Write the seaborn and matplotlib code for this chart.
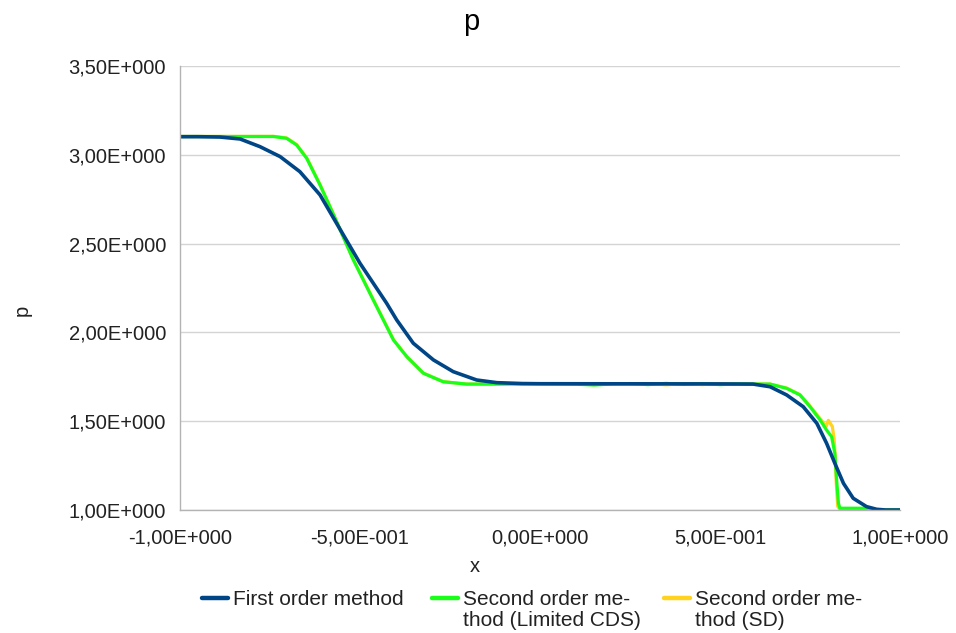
import numpy as np
import pandas as pd
import matplotlib
matplotlib.use("Agg")
import matplotlib.pyplot as plt
from matplotlib.legend_handler import HandlerLine2D
from matplotlib.lines import Line2D
import seaborn as sns

# ---- data ----
x_first = [-1.0, -0.95, -0.889, -0.833, -0.778, -0.722, -0.667, -0.611, -0.565, -0.5,
           -0.426, -0.398, -0.352, -0.296, -0.241, -0.176, -0.12, -0.05, 0.0, 0.5, 0.592,
           0.639, 0.685, 0.731, 0.769, 0.796, 0.819, 0.843, 0.87, 0.907, 0.935, 0.96, 1.0]
p_first = [3.102, 3.102, 3.10, 3.089, 3.046, 2.99, 2.905, 2.774, 2.614, 2.389,
           2.164, 2.07, 1.939, 1.845, 1.779, 1.732, 1.717, 1.712, 1.711, 1.71, 1.709,
           1.694, 1.648, 1.582, 1.488, 1.376, 1.263, 1.15, 1.066, 1.019, 1.004, 1.0, 1.0]

x_cds = [-1.0, -0.74, -0.704, -0.676, -0.648, -0.611, -0.574, -0.519, -0.463, -0.407,
         -0.37, -0.324, -0.269, -0.204, -0.15, 0.0, 0.1, 0.15, 0.2, 0.25, 0.3, 0.35, 0.4,
         0.45, 0.5, 0.55, 0.6, 0.639, 0.685, 0.722, 0.75, 0.778, 0.796, 0.81, 0.819,
         0.824, 0.829, 0.833, 0.917, 0.93, 1.0]
p_cds = [3.103, 3.103, 3.093, 3.055, 2.98, 2.83, 2.665, 2.41, 2.182, 1.957,
         1.863, 1.77, 1.722, 1.709, 1.709, 1.71, 1.708, 1.704, 1.709, 1.712, 1.706, 1.713, 1.707,
         1.712, 1.706, 1.71, 1.709, 1.709, 1.685, 1.648, 1.582, 1.507, 1.45, 1.413, 1.319,
         1.169, 1.038, 1.01, 1.01, 1.0, 1.0]

x_sd = [-1.0, -0.74, -0.704, -0.676, -0.648, -0.611, -0.574, -0.519, -0.463, -0.407,
        -0.37, -0.324, -0.269, -0.204, -0.15, 0.0, 0.1, 0.15, 0.2, 0.25, 0.3, 0.35, 0.4,
        0.45, 0.5, 0.55, 0.6, 0.639, 0.685, 0.722, 0.75, 0.78, 0.795, 0.801, 0.812,
        0.817, 0.82, 0.823, 0.827, 0.835, 1.0]
p_sd = [3.103, 3.104, 3.095, 3.058, 2.983, 2.832, 2.667, 2.412, 2.184, 1.959,
        1.864, 1.771, 1.723, 1.709, 1.709, 1.71, 1.71, 1.706, 1.711, 1.707, 1.712, 1.705, 1.711,
        1.706, 1.711, 1.709, 1.709, 1.709, 1.687, 1.65, 1.585, 1.51, 1.47, 1.505, 1.47,
        1.40, 1.30, 1.15, 1.02, 1.0, 1.0]

series_names = ["First order method", "Second order me-\nthod (Limited CDS)",
                "Second order me-\nthod (SD)"]
series_colors = ["#004586", "#1aff1a", "#ffd320"]

x_ticks = [-1.0, -0.5, 0.0, 0.5, 1.0]
x_tick_labels = ["-1,00E+000", "-5,00E-001", "0,00E+000", "5,00E-001", "1,00E+000"]
y_ticks = [1.0, 1.5, 2.0, 2.5, 3.0, 3.5]
y_tick_labels = ["1,00E+000", "1,50E+000", "2,00E+000", "2,50E+000", "3,00E+000", "3,50E+000"]

df = pd.concat([
    pd.DataFrame({"x": x_first, "p": p_first, "series": series_names[0]}),
    pd.DataFrame({"x": x_cds, "p": p_cds, "series": series_names[1]}),
    pd.DataFrame({"x": x_sd, "p": p_sd, "series": series_names[2]}),
], ignore_index=True)

# ---- styling ----
sns.set_style("white")
plt.rcParams["font.family"] = ["Liberation Sans", "DejaVu Sans"]
text_color = "#222222"
grid_color = "#d4d4d4"
axis_color = "#b3b3b3"
tick_fs = 14.5
leg_fs = 15

fig = plt.figure(figsize=(9.56, 6.33), dpi=100)
ax = fig.add_axes([180 / 956, 1 - 510 / 633, 720 / 956, 444 / 633])

palette = dict(zip(series_names, series_colors))
widths = {series_names[0]: 2.6, series_names[1]: 2.3, series_names[2]: 2.3}
for name in [series_names[2], series_names[1], series_names[0]]:
    sub = df[df["series"] == name]
    sns.lineplot(data=sub, x="x", y="p", color=palette[name], linewidth=widths[name],
                 ax=ax, sort=False, estimator=None, legend=False)

ax.set_xlim(-1.0, 1.0)
ax.set_ylim(1.0, 3.5)
ax.set_xticks(x_ticks)
ax.set_xticklabels(x_tick_labels)
ax.set_yticks(y_ticks)
ax.set_yticklabels(y_tick_labels)
ax.set_xticks([-1.0, 0.0, 1.0], minor=True)

ax.grid(axis="y", which="major", color=grid_color, linewidth=1.0)
ax.grid(axis="x", which="minor", color=grid_color, linewidth=1.0)
ax.grid(axis="x", which="major", visible=False)
ax.set_axisbelow(True)

for s in ["top", "right"]:
    ax.spines[s].set_visible(False)
for s in ["left", "bottom"]:
    ax.spines[s].set_color(axis_color)
    ax.spines[s].set_linewidth(1.0)

ax.tick_params(axis="both", which="major", direction="out", color=axis_color,
               labelsize=tick_fs, labelcolor=text_color, width=1.0)
ax.tick_params(axis="y", which="major", length=9, pad=1)
ax.tick_params(axis="x", which="major", length=7, pad=6)
ax.tick_params(axis="x", which="minor", length=0)

ax.set_xlabel("x", fontsize=tick_fs, color=text_color)
ax.set_ylabel("p", fontsize=tick_fs, color=text_color)
ax.xaxis.set_label_coords((475 - 180) / 720, -0.105)
ax.yaxis.set_label_coords((32 - 180) / 720, (510 - 310) / 444)

fig.text(471 / 956, 1 - 22 / 633, "p", fontsize=21, color="black", ha="center", va="center")


class TopLineHandler(HandlerLine2D):
    def __init__(self, dy=0.0, **kw):
        super().__init__(**kw)
        self.dy = dy

    def create_artists(self, legend, orig_handle, xdescent, ydescent, width, height,
                       fontsize, trans):
        arts = super().create_artists(legend, orig_handle, xdescent, ydescent, width,
                                      height, fontsize, trans)
        for a in arts:
            a.set_ydata(np.asarray(a.get_ydata(), dtype=float) + self.dy)
        return arts


leg_x = [202, 432, 664]
line_sp = 1.16
for name, color, lx in zip(series_names, series_colors, leg_x):
    h = Line2D([], [], color=color, linewidth=3.2)
    nlines = name.count("\n") + 1
    dy = 0.5 * line_sp * leg_fs * (nlines - 1)
    leg = fig.legend([h], [name], loc="upper left",
                     bbox_to_anchor=(lx / 956, 1 - 590 / 633), frameon=False,
                     fontsize=leg_fs, handlelength=1.25, handletextpad=0.25,
                     labelcolor=text_color, borderpad=0, borderaxespad=0,
                     handler_map={h: TopLineHandler(dy=dy)})
    for t in leg.get_texts():
        t.set_linespacing(line_sp)

fig.savefig("out.png", dpi=100, facecolor="white")
